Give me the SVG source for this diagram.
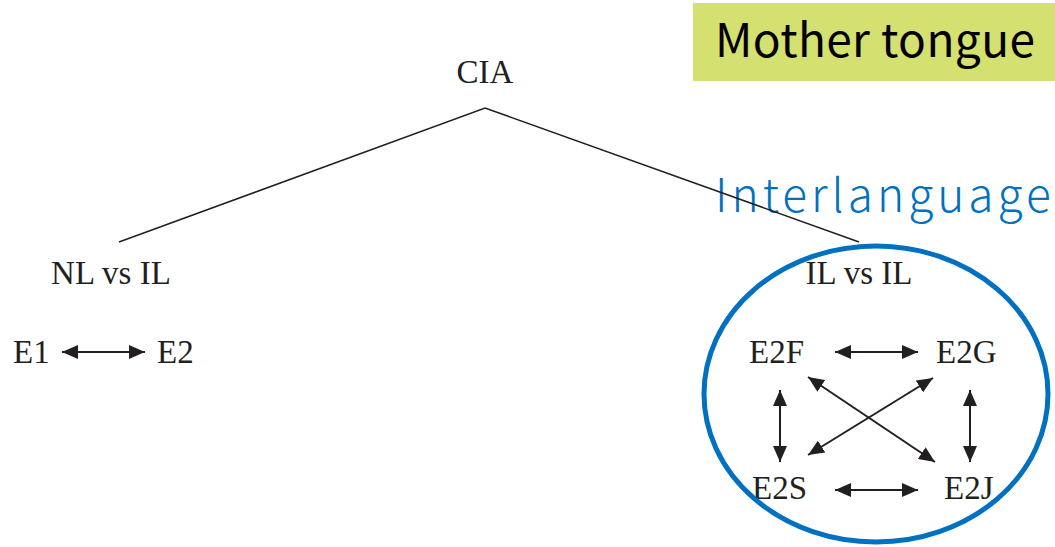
<svg xmlns="http://www.w3.org/2000/svg" width="1055" height="547" viewBox="0 0 1055 547">
<style>
.t{font-family:"Liberation Serif",serif;font-size:33px;fill:#231f20}
.c{stroke:#231f20;stroke-width:1.6;fill:none}
.a{stroke:#231f20;stroke-width:2;fill:none;marker-start:url(#ah);marker-end:url(#ah)}
</style>
<defs>
<marker id="ah" viewBox="0 0 16 14" refX="16" refY="7" markerWidth="16" markerHeight="14" markerUnits="userSpaceOnUse" orient="auto-start-reverse">
<path d="M0,0 L16,7 L0,14 Z" fill="#231f20"/>
</marker>
</defs>
<rect width="1055" height="547" fill="#fff"/>
<g id="mother-tongue">
<rect x="693" y="3" width="362" height="78" fill="#d4e170"/>
<text x="715" y="57" font-family="'Noto Sans CJK JP','Noto Sans',sans-serif" font-size="46" letter-spacing="0.4" fill="#000">Mother tongue</text>
</g>
<g id="interlanguage">
<text x="715" y="212" font-family="'Noto Sans CJK JP','Noto Sans',sans-serif" font-size="46" font-weight="300" letter-spacing="4" fill="#0070c0">Interlanguage</text>
</g>
<g id="cia"><text class="t" x="485" y="83" text-anchor="middle">CIA</text></g>
<g id="nl-vs-il"><text class="t" x="111" y="284" text-anchor="middle">NL vs IL</text></g>
<g id="il-vs-il"><text class="t" x="859" y="284" text-anchor="middle">IL vs IL</text></g>
<g id="e1"><text class="t" x="13" y="363">E1</text></g>
<g id="e2"><text class="t" x="157" y="363">E2</text></g>
<g id="e2f"><text class="t" x="749" y="363">E2F</text></g>
<g id="e2g"><text class="t" x="936" y="363">E2G</text></g>
<g id="e2s"><text class="t" x="752" y="499">E2S</text></g>
<g id="e2j"><text class="t" x="944" y="499">E2J</text></g>
<g id="ellipse"><ellipse cx="876" cy="394" rx="172" ry="148" fill="none" stroke="#0070c0" stroke-width="5"/></g>
<g id="connectors">
<path class="c" d="M119,242 L485,108 L859,242"/>
<line class="a" x1="62" y1="352" x2="145" y2="352"/>
<line class="a" x1="835" y1="352" x2="918" y2="352"/>
<line class="a" x1="835" y1="490" x2="918" y2="490"/>
<line class="a" x1="780" y1="390" x2="780" y2="462"/>
<line class="a" x1="970" y1="390" x2="970" y2="462"/>
<line class="a" x1="808" y1="377" x2="935" y2="462"/>
<line class="a" x1="933" y1="378" x2="808" y2="455"/>
</g>
</svg>
